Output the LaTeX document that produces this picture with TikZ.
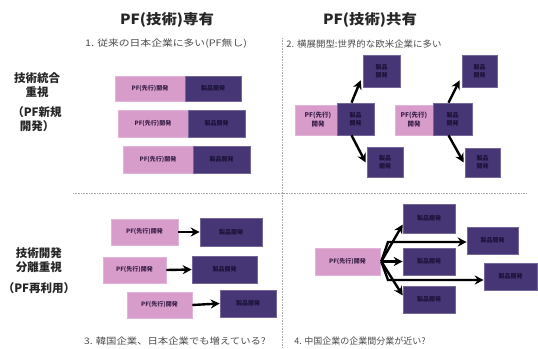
\documentclass[tikz,border=0pt]{standalone}
\usepackage{fontspec}
\usepackage{graphicx}
\setmainfont{Noto Sans CJK JP}
\usetikzlibrary{arrows.meta,calc}
\definecolor{pinkc}{HTML}{D89CCB}
\definecolor{darkc}{HTML}{473676}
\definecolor{darktxt}{HTML}{1A1238}
\definecolor{pinktxt}{HTML}{3A2048}
\begin{document}
\begin{tikzpicture}[x=1pt,y=-1pt,
  pf/.style={fill=pinkc, draw=pinkc!75!white, line width=0.6pt, inner sep=0pt, font=\fontsize{6}{8}\selectfont\bfseries, text=pinktxt, align=center},
  prod/.style={fill=darkc, draw=darkc!75!white, line width=0.6pt, inner sep=0pt, font=\fontsize{6}{8}\selectfont\bfseries, text=darktxt, align=center},
  arr/.style={line width=2.4pt, -{Stealth[length=9pt,width=9pt]}},
  sep/.style={gray!70, densely dotted, line width=0.6pt},
  ttl/.style={font=\fontsize{14}{16}\selectfont\bfseries, text=black!85},
  sub/.style={font=\fontsize{9}{10}\selectfont, text=black!70},
  lbl/.style={font=\fontsize{11.5}{14}\selectfont\bfseries, align=center, text=black!85}]
\useasboundingbox (0,0) rectangle (538,348);
\fill[white] (0,0) rectangle (538,348);

% separators
\coordinate (hl) at (73,193);
\coordinate (hr) at (527,193);
\coordinate (vt) at (282,38);
\coordinate (vb) at (282,348);
\draw[sep] (hl) -- (hr);
\draw[sep] (vt) -- (vb);

% titles
\node[ttl] (t1) at (167,20) {\scalebox{1.1}[1]{PF(技術)専有}};
\node[ttl] (t2) at (370,20) {\scalebox{1.1}[1]{PF(技術)共有}};
\node[sub] (s1) at (166,44) {\scalebox{1.2}[1]{1. 従来の日本企業に多い(PF無し)}};
\node[sub] (s2) at (364,44) {\scalebox{1.05}[1]{2. 横展開型:世界的な欧米企業に多い}};
\node[sub] (s3) at (175,341) {\scalebox{1.15}[1]{3. 韓国企業、日本企業でも増えている?}};
\node[sub] (s4) at (360,341) {\scalebox{1.0}[1]{4. 中国企業の企業間分業が近い?}};

% row labels
\node[lbl] (l1) at (37,102) {技術統合\\重視\\[6pt]（PF新規\\開発）};
\node[lbl] (l2) at (39,271) {技術開発\\分離重視\\[7pt]（PF再利用）};

% quadrant 1
\node[pf, minimum width=70pt, minimum height=25pt] (a1) at (150,88.5) {PF(先行)開発};
\node[prod, minimum width=56pt, minimum height=25pt] (b1) at (213,88.5) {製品開発};
\node[pf, minimum width=70pt, minimum height=27pt] (a2) at (153,123.5) {PF(先行)開発};
\node[prod, minimum width=57pt, minimum height=27pt] (b2) at (216.5,123.5) {製品開発};
\node[pf, minimum width=70pt, minimum height=27pt] (a3) at (158,159.5) {PF(先行)開発};
\node[prod, minimum width=57pt, minimum height=27pt] (b3) at (221.5,159.5) {製品開発};

% quadrant 2, group 1
\node[pf, minimum width=52pt, minimum height=30pt, font=\fontsize{6.5}{9}\selectfont\bfseries] (p1) at (321,120) {PF(先行)\hspace*{6pt}\\開発\hspace*{6pt}};
\node[prod, minimum width=37pt, minimum height=32pt] (c1) at (355.5,119) {製品\\開発};
\node[prod, minimum width=37pt, minimum height=32pt] (u1) at (381.5,71) {製品\\開発};
\node[prod, minimum width=36pt, minimum height=30pt] (d1) at (385,162.5) {製品\\開発};
\draw[arr] ($(c1.north)+(-4,0)$) -- ($(u1.south west)+(-2,-7)$);
\draw[arr] ($(c1.south)+(-4,0)$) -- ($(d1.west)+(-1,0)$);

% quadrant 2, group 2
\node[pf, minimum width=42pt, minimum height=30pt, font=\fontsize{6.5}{9}\selectfont\bfseries] (p2) at (416,120) {PF(先行)\hspace*{4pt}\\開発\hspace*{4pt}};
\node[prod, minimum width=39pt, minimum height=32pt] (c2) at (452.5,119) {製品\\開発};
\node[prod, minimum width=35pt, minimum height=32pt] (u2) at (479.5,71) {製品\\開発};
\node[prod, minimum width=35pt, minimum height=29pt] (d2) at (482.5,162.5) {製品\\開発};
\draw[arr] ($(c2.north)+(-4,0)$) -- ($(u2.south west)+(-2,-7)$);
\draw[arr] ($(c2.south)+(-4,0)$) -- ($(d2.west)+(-1,0)$);

% quadrant 3
\node[pf, minimum width=67pt, minimum height=26pt] (e1) at (144.5,232) {PF(先行)開発};
\node[prod, minimum width=62pt, minimum height=28pt] (f1) at (231,232) {製品開発};
\node[pf, minimum width=63pt, minimum height=26pt] (e2) at (134.5,270) {PF(先行)開発};
\node[prod, minimum width=65pt, minimum height=27pt] (f2) at (224.5,269.5) {製品開発};
\node[pf, minimum width=65pt, minimum height=26pt] (e3) at (159.5,305) {PF(先行)開発};
\node[prod, minimum width=56pt, minimum height=27pt] (f3) at (248,303.5) {製品開発};
\draw[arr] (e1.east) -- (f1.west);
\draw[arr] (e2.east) -- (f2.west);
\draw[arr] (e3.east) -- (f3.west);

% quadrant 4
\node[pf, minimum width=65pt, minimum height=27pt] (q) at (347.5,261.5) {PF(先行)開発};
\node[prod, minimum width=52pt, minimum height=29pt] (ra) at (429,218.5) {製品開発};
\node[prod, minimum width=51pt, minimum height=27pt] (rb) at (492.5,240.5) {製品開発};
\node[prod, minimum width=52pt, minimum height=27pt] (rc) at (429,261.5) {製品開発};
\node[prod, minimum width=53pt, minimum height=27pt] (rd) at (510.5,276.5) {製品開発};
\node[prod, minimum width=52pt, minimum height=27pt] (re) at (429,299.5) {製品開発};
\coordinate (fan) at ($(q.east)+(1,0)$);
\coordinate (kb) at (388,242);
\coordinate (kd) at (388,280);
\draw[arr] (fan) -- ($(ra.west)+(0,6)$);
\draw[arr] (fan) -- (kb) -- (kb -| rb.west);
\draw[arr] (fan) -- (rc.west);
\draw[arr] (fan) -- (kd) -- (kd -| rd.west);
\draw[arr] (fan) -- ($(re.west)+(0,-4)$);
\end{tikzpicture}
\end{document}
